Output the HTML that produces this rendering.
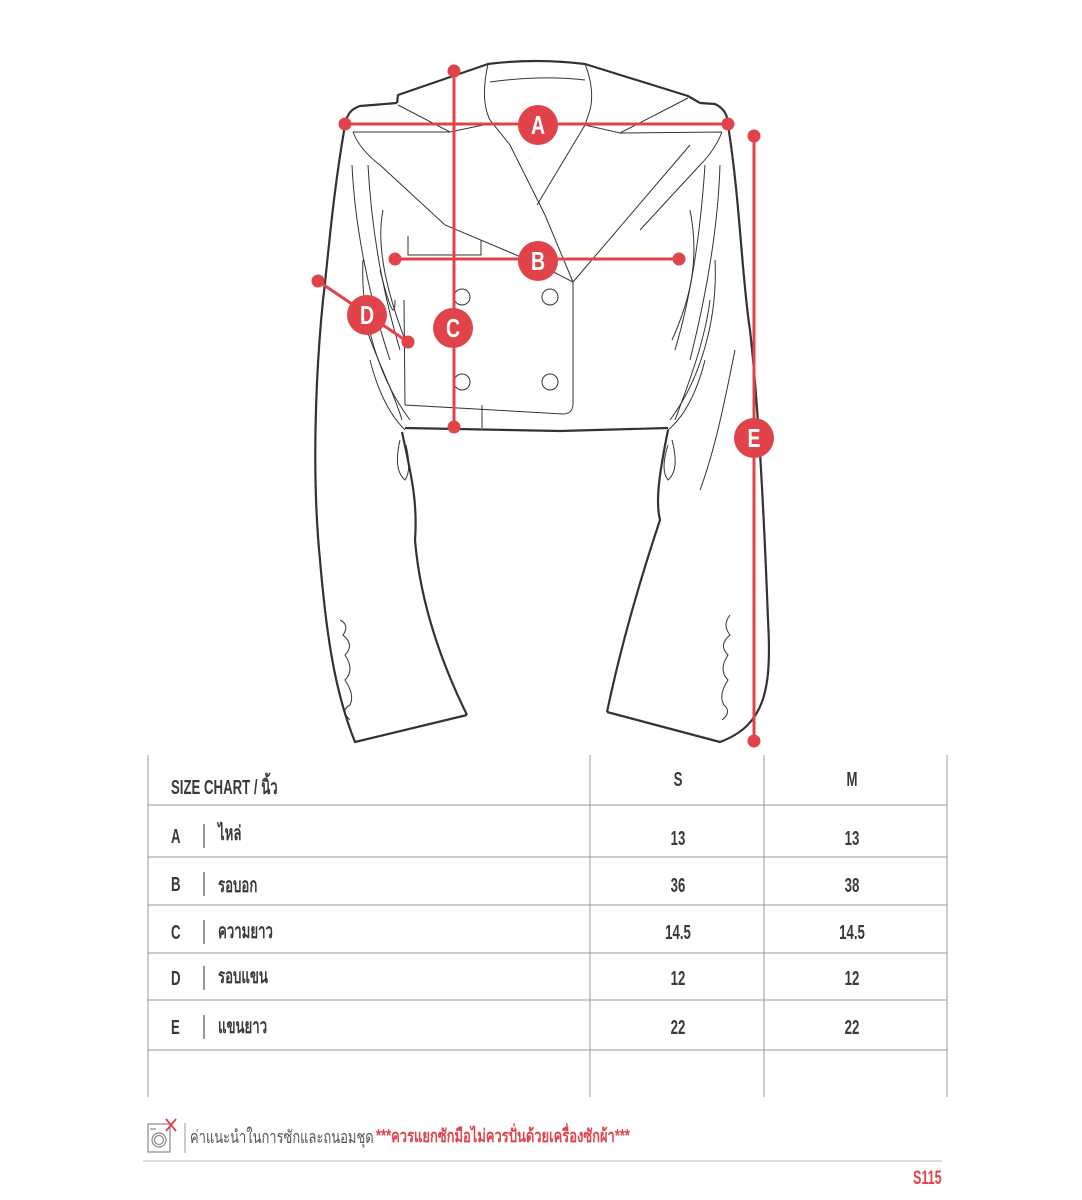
<!DOCTYPE html>
<html><head><meta charset="utf-8"><style>
html,body{margin:0;padding:0;background:#fff;}
body{width:1082px;height:1200px;position:relative;overflow:hidden;font-family:"Liberation Sans","DejaVu Sans",sans-serif;}
.t{position:absolute;color:#3a3a3a;font-size:20px;font-weight:bold;transform-origin:left center;transform:scaleX(0.66);white-space:nowrap;line-height:1;}
.c{position:absolute;color:#3a3a3a;font-size:20px;font-weight:bold;width:80px;text-align:center;line-height:1;transform:scaleX(0.66);}
</style></head><body>
<svg width="1082" height="1200" style="position:absolute;left:0;top:0">
<g fill="none" stroke="#333" stroke-width="2.2" stroke-linejoin="round">
<path d="M397,103 L398,95 L488,64 Q535,58 585,64 L688,96 L700,103"/>
<path d="M397,103 L360,106 Q347,110 345,125 C332,200 328,260 323,300 C315,380 312,480 320,560 C326,630 334,690 355,742 L467,715"/>
<path d="M700,103 L715,104 Q728,110 728,125 C740,200 742,280 750,330 C760,420 765,540 768,620 C772,690 765,725 720,742 L607,712"/>
<path d="M405,428 L560,431 L668,428"/>
<path d="M402,432 C410,470 418,500 415,540 C420,600 440,660 467,715"/>
<path d="M668,430 C660,470 655,500 660,520 C640,580 620,650 607,712"/>
</g>
<g fill="none" stroke="#333" stroke-width="1">
<path d="M488,64 Q480,100 490,120 L510,145 L545,215 L573,282 L690,145"/>
<path d="M490,82 Q540,75 585,80"/>
<path d="M585,64 Q595,90 590,110 L585,125 L537,205"/>
<path d="M398,105 L450,132 L488,124"/>
<path d="M688,98 L620,133 L585,125"/>
<path d="M353,132 L450,132 M353,132 Q360,150 380,165 L445,225 L540,265 L573,282 L573,405 Q572,414 563,414 L405,405 L404,300"/>
<path d="M408,236 L408,255 L481,255 L481,240"/>
<path d="M722,132 L620,133 M722,132 Q715,150 700,165 L640,230"/>
<circle cx="462" cy="297" r="8"/><circle cx="550" cy="297" r="8"/>
<circle cx="462" cy="382" r="8"/><circle cx="550" cy="382" r="8"/>
<path d="M482,405 L482,428"/>
<path d="M352,165 C355,230 370,300 390,360 M368,165 C372,240 385,300 400,350"/>
<path d="M383,210 C375,250 390,300 405,340 M363,260 C360,320 380,380 410,420 M370,360 C380,400 395,420 405,430"/>
<path d="M380,270 Q395,330 395,300 M360,300 C365,340 390,380 402,420"/>
<path d="M720,165 C718,230 705,300 690,360 M705,165 C700,240 690,300 675,350"/>
<path d="M690,210 C700,260 690,300 672,340 M715,260 C718,320 700,380 670,420 M705,360 C695,400 680,420 668,430"/>
<path d="M710,300 C705,340 690,380 675,420 M735,350 C725,400 715,450 700,490"/>
<path d="M400,440 Q393,470 405,480 Q412,470 406,445 M672,440 Q680,470 668,480 Q660,470 668,445"/>
<path d="M340,620 Q350,625 343,635 Q355,645 345,655 Q355,670 345,680 Q355,695 350,705 Q340,710 350,720"/>
<path d="M730,615 Q722,625 730,635 Q718,645 728,655 Q718,670 728,680 Q718,695 724,705 Q732,712 722,720"/>
</g>
<g stroke="#e0434a" stroke-width="3" fill="#e0434a">
<line x1="345" y1="124" x2="728" y2="124"/><circle cx="345" cy="124" r="5"/><circle cx="728" cy="124" r="5"/>
<line x1="395" y1="259" x2="679" y2="259"/><circle cx="395" cy="259" r="5"/><circle cx="679" cy="259" r="5"/>
<line x1="454" y1="71" x2="454" y2="427"/><circle cx="454" cy="71" r="5"/><circle cx="454" cy="427" r="5"/>
<line x1="318" y1="281" x2="408" y2="342"/><circle cx="318" cy="281" r="5"/><circle cx="408" cy="342" r="5"/>
<line x1="754" y1="136" x2="754" y2="741"/><circle cx="754" cy="136" r="5"/><circle cx="754" cy="741" r="5"/>
<g stroke="none"><circle cx="538" cy="125" r="20"/><circle cx="538" cy="261" r="20"/><circle cx="453" cy="328" r="20"/><circle cx="367" cy="315" r="20"/><circle cx="754" cy="438" r="20"/></g>
</g>
<g fill="#fff" font-family="Liberation Sans" font-weight="bold" font-size="26" text-anchor="middle">
<text x="538" y="134" transform="translate(538 0) scale(0.75 1) translate(-538 0)">A</text>
<text x="538" y="270" transform="translate(538 0) scale(0.75 1) translate(-538 0)">B</text>
<text x="453" y="337" transform="translate(453 0) scale(0.75 1) translate(-453 0)">C</text>
<text x="367" y="324" transform="translate(367 0) scale(0.75 1) translate(-367 0)">D</text>
<text x="754" y="447" transform="translate(754 0) scale(0.75 1) translate(-754 0)">E</text>
</g>
<g stroke="#999" stroke-width="1">
<line x1="148" y1="755" x2="148" y2="1097"/><line x1="590" y1="755" x2="590" y2="1097"/>
<line x1="764" y1="755" x2="764" y2="1097"/><line x1="947" y1="755" x2="947" y2="1097"/>
<line x1="148" y1="805" x2="947" y2="805"/><line x1="148" y1="857" x2="947" y2="857"/>
<line x1="148" y1="905" x2="947" y2="905"/><line x1="148" y1="953" x2="947" y2="953"/>
<line x1="148" y1="1000" x2="947" y2="1000"/><line x1="148" y1="1050" x2="947" y2="1050"/>
</g>
<g stroke="#555" stroke-width="1.2">
<line x1="204" y1="824" x2="204" y2="848"/><line x1="204" y1="872" x2="204" y2="896"/>
<line x1="204" y1="920" x2="204" y2="944"/><line x1="204" y1="966" x2="204" y2="990"/>
<line x1="204" y1="1015" x2="204" y2="1039"/>
<line x1="185" y1="1123" x2="185" y2="1153" stroke="#aaa"/>
</g>
<g fill="none" stroke="#888" stroke-width="1.2">
<rect x="148" y="1124" width="22" height="28"/><circle cx="159" cy="1140" r="7"/><circle cx="159" cy="1140" r="4.5"/>
<line x1="150" y1="1129" x2="156" y2="1129"/>
</g>
<path d="M166,1119 L176,1131 M176,1119 L166,1131" stroke="#e0434a" stroke-width="1.8"/>
<line x1="143" y1="1161" x2="942" y2="1161" stroke="#ddd" stroke-width="2"/>
</svg>
<div class="t" style="left:171px;top:778px">SIZE CHART / นิ้ว</div>
<div class="c" style="left:638px;top:770px">S</div>
<div class="c" style="left:812px;top:770px">M</div>
<div class="t" style="left:171px;top:827px">A</div><div class="t" style="left:218px;top:824px">ไหล่</div>
<div class="t" style="left:171px;top:875px">B</div><div class="t" style="left:218px;top:876px">รอบอก</div>
<div class="t" style="left:171px;top:923px">C</div><div class="t" style="left:218px;top:922px">ความยาว</div>
<div class="t" style="left:171px;top:969px">D</div><div class="t" style="left:218px;top:967px">รอบแขน</div>
<div class="t" style="left:171px;top:1018px">E</div><div class="t" style="left:218px;top:1017px">แขนยาว</div>
<div class="c" style="left:638px;top:829px">13</div><div class="c" style="left:812px;top:829px">13</div>
<div class="c" style="left:638px;top:876px">36</div><div class="c" style="left:812px;top:876px">38</div>
<div class="c" style="left:638px;top:923px">14.5</div><div class="c" style="left:812px;top:923px">14.5</div>
<div class="c" style="left:638px;top:969px">12</div><div class="c" style="left:812px;top:969px">12</div>
<div class="c" style="left:638px;top:1018px">22</div><div class="c" style="left:812px;top:1018px">22</div>
<div class="t" style="left:190px;top:1128px;font-size:18px;color:#555;font-weight:normal;transform:scaleX(0.72)">ค่าแนะนำในการซักและถนอมชุด</div>
<div class="t" style="left:376px;top:1127px;font-size:18px;color:#e0434a;transform:scaleX(0.72)">***ควรแยกซักมือไม่ควรปั่นด้วยเครื่องซักผ้า***</div>
<div class="t" style="left:913px;top:1169px;font-size:19px;color:#e0434a;">S115</div>
</body></html>
